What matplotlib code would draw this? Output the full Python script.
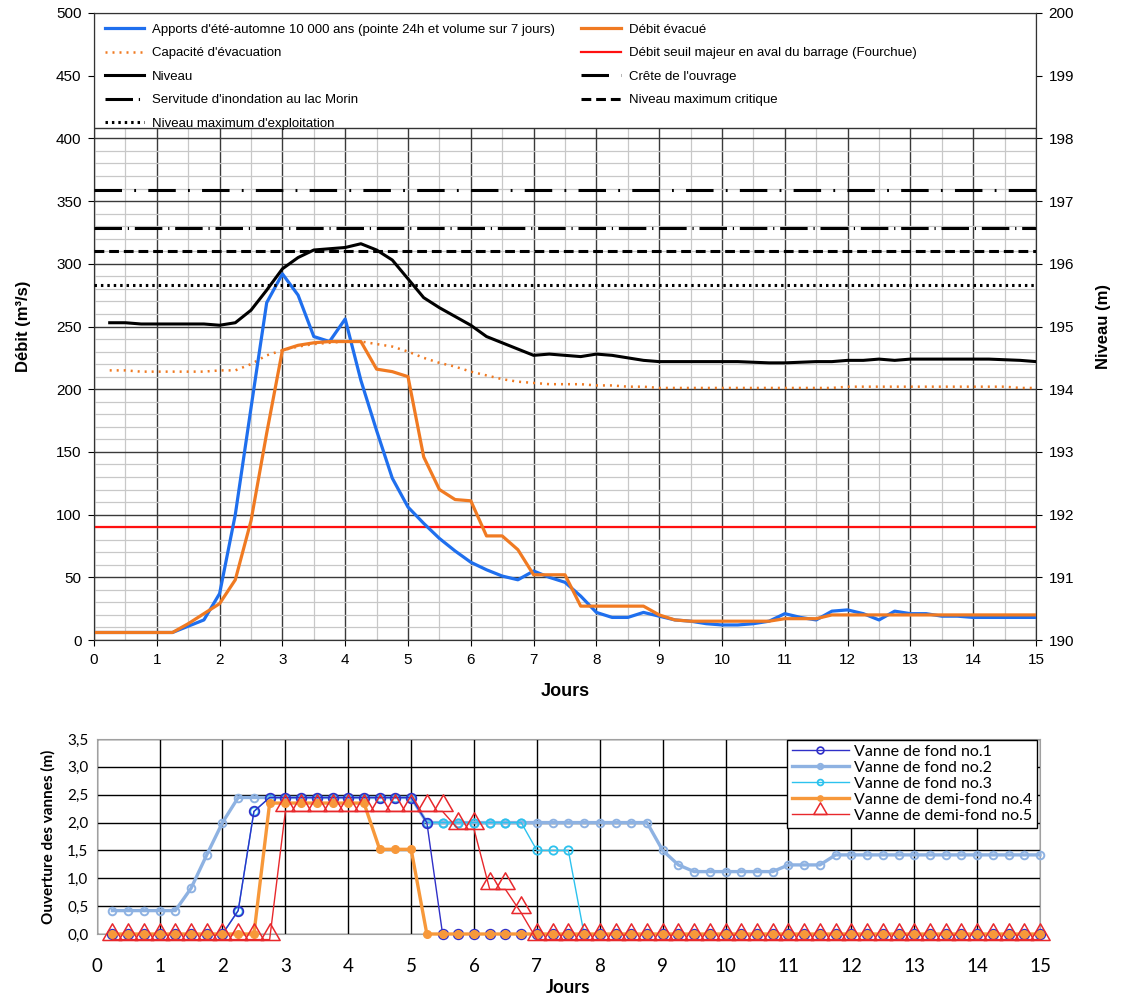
import numpy as np
import matplotlib
matplotlib.use("Agg")
import matplotlib.pyplot as plt
from matplotlib.path import Path
from matplotlib.patches import Rectangle
from matplotlib.ticker import MultipleLocator, FixedLocator

W, H = 1130, 1007
NARROW = ['Liberation Sans Narrow', 'Liberation Sans', 'DejaVu Sans']
LOWF = ['Lato', 'DejaVu Sans']

# ---------------- data: top chart ----------------
t_flow = [i * 0.25 for i in range(61)]      # 0 .. 15 days
t_level = t_flow[1:]                        # 0.25 .. 15 days

apports = [6, 6, 6, 6, 6, 6, 11, 16,
           37, 100, 185, 269, 292, 275, 242, 238,
           256, 207, 167, 129, 106, 93, 81, 71,
           62, 56, 51, 48, 55, 50, 46, 35,
           22, 18, 18, 22, 19, 16, 15, 13,
           12, 12, 13, 15, 21, 18, 16, 23,
           24, 21, 16, 23, 21, 21, 19, 19,
           18, 18, 18, 18, 18]

debit_evacue = [6, 6, 6, 6, 6, 6, 13, 21,
                29, 48, 95, 165, 231, 235, 237, 238,
                238, 238, 216, 214, 210, 146, 120, 112,
                111, 83, 83, 72, 52, 52, 52, 27,
                27, 27, 27, 27, 20, 16, 15, 15,
                15, 15, 15, 15, 17, 17, 17, 20,
                20, 20, 20, 20, 20, 20, 20, 20,
                20, 20, 20, 20, 20]

capacite = [215, 215, 214, 214, 214, 214, 214, 215,
            215, 220, 227, 231, 234, 236, 237, 238,
            238, 236, 234, 230, 225, 221, 218, 214,
            211, 208, 206, 205, 204, 204, 204, 203,
            203, 202, 202, 201, 201, 201, 201, 201,
            201, 201, 201, 201, 201, 201, 201, 202,
            202, 202, 202, 202, 202, 202, 202, 202,
            202, 202, 201, 201]

niveau = [195.06, 195.06, 195.04, 195.04, 195.04, 195.04, 195.04, 195.02,
          195.06, 195.26, 195.58, 195.92, 196.10, 196.22, 196.24, 196.26,
          196.32, 196.22, 196.06, 195.76, 195.46, 195.30, 195.16, 195.02,
          194.84, 194.74, 194.64, 194.54, 194.56, 194.54, 194.52, 194.56,
          194.54, 194.50, 194.46, 194.44, 194.44, 194.44, 194.44, 194.44,
          194.44, 194.43, 194.42, 194.42, 194.43, 194.44, 194.44, 194.46,
          194.46, 194.48, 194.46, 194.48, 194.48, 194.48, 194.48, 194.48,
          194.48, 194.47, 194.46, 194.44]

seuil_aval = 90          # m3/s
crete = 197.18           # m
servitude = 196.57       # m
critique = 196.21        # m
exploitation = 195.66    # m

x_ticks_top = list(range(0, 16))
y_ticks_left = list(range(0, 501, 50))
y_ticks_right = list(range(190, 201))

labels_top = ["Apports d'été-automne 10 000 ans (pointe 24h et volume sur 7 jours)",
              "Débit évacué",
              "Capacité d'évacuation",
              "Débit seuil majeur en aval du barrage (Fourchue)",
              "Niveau",
              "Crête de l'ouvrage",
              "Servitude d'inondation au lac Morin",
              "Niveau maximum critique",
              "Niveau maximum d'exploitation"]

# ---------------- data: gates ----------------
t_gate = t_level
vanne1 = [0, 0, 0, 0, 0, 0, 0, 0,
          0.42, 2.2, 2.45, 2.45, 2.45, 2.45, 2.45, 2.45,
          2.45, 2.45, 2.45, 2.45, 2.0, 0, 0, 0,
          0, 0, 0, 0, 0, 0, 0, 0,
          0, 0, 0, 0, 0, 0, 0, 0,
          0, 0, 0, 0, 0, 0, 0, 0,
          0, 0, 0, 0, 0, 0, 0, 0,
          0, 0, 0, 0]
vanne2 = [0.42, 0.42, 0.42, 0.42, 0.42, 0.82, 1.42, 2.0,
          2.45, 2.45, 2.45, 2.45, 2.45, 2.45, 2.45, 2.45,
          2.45, 2.45, 2.45, 2.45, 2.0, 2.0, 2.0, 2.0,
          2.0, 2.0, 2.0, 2.0, 2.0, 2.0, 2.0, 2.0,
          2.0, 2.0, 2.0, 1.5, 1.24, 1.12, 1.12, 1.12,
          1.12, 1.12, 1.12, 1.24, 1.24, 1.24, 1.42, 1.42,
          1.42, 1.42, 1.42, 1.42, 1.42, 1.42, 1.42, 1.42,
          1.42, 1.42, 1.42, 1.42]
vanne3 = [0, 0, 0, 0, 0, 0, 0, 0,
          0.42, 2.2, 2.45, 2.45, 2.45, 2.45, 2.45, 2.45,
          2.45, 2.45, 2.45, 2.45, 2.0, 2.0, 2.0, 2.0,
          2.0, 2.0, 2.0, 1.5, 1.5, 1.5, 0, 0,
          0, 0, 0, 0, 0, 0, 0, 0,
          0, 0, 0, 0, 0, 0, 0, 0,
          0, 0, 0, 0, 0, 0, 0, 0,
          0, 0, 0, 0]
vanne4 = [0, 0, 0, 0, 0, 0, 0, 0,
          0, 0, 2.35, 2.35, 2.35, 2.35, 2.35, 2.35,
          2.35, 1.52, 1.52, 1.52, 0, 0, 0, 0,
          0, 0, 0, 0, 0, 0, 0, 0,
          0, 0, 0, 0, 0, 0, 0, 0,
          0, 0, 0, 0, 0, 0, 0, 0,
          0, 0, 0, 0, 0, 0, 0, 0,
          0, 0, 0, 0]
vanne5 = [-0.1, -0.1, -0.1, -0.1, -0.1, -0.1, -0.1, -0.1,
          -0.1, -0.1, -0.1, 2.2, 2.2, 2.2, 2.2, 2.2,
          2.2, 2.2, 2.2, 2.2, 2.2, 2.2, 1.88, 1.88,
          0.8, 0.8, 0.38, -0.1, -0.1, -0.1, -0.1, -0.1,
          -0.1, -0.1, -0.1, -0.1, -0.1, -0.1, -0.1, -0.1,
          -0.1, -0.1, -0.1, -0.1, -0.1, -0.1, -0.1, -0.1,
          -0.1, -0.1, -0.1, -0.1, -0.1, -0.1, -0.1, -0.1,
          -0.1, -0.1, -0.1, -0.1]
labels_gates = ["Vanne de fond no.1", "Vanne de fond no.2", "Vanne de fond no.3",
                "Vanne de demi-fond no.4", "Vanne de demi-fond no.5"]
y_ticks_gate = [0, 0.5, 1.0, 1.5, 2.0, 2.5, 3.0, 3.5]
y_ticklabels_gate = ["0,0", "0,5", "1,0", "1,5", "2,0", "2,5", "3,0", "3,5"]

# ---------------- figure ----------------
fig = plt.figure(figsize=(W / 100, H / 100), dpi=100)

ax = fig.add_axes([94 / W, 1 - 640 / H, 942 / W, 627 / H])
ax2 = ax.twinx()

ax.set_xlim(0, 15)
ax.set_ylim(0, 500)
ax2.set_ylim(190, 200)
ax.set_axisbelow(True)
ax.xaxis.set_major_locator(FixedLocator(x_ticks_top))
ax.xaxis.set_minor_locator(MultipleLocator(0.5))
ax.yaxis.set_major_locator(FixedLocator(y_ticks_left))
ax.yaxis.set_minor_locator(MultipleLocator(10))
ax2.yaxis.set_major_locator(FixedLocator(y_ticks_right))
ax.grid(which='minor', color='#c8c8c8', lw=0.9)
ax.grid(which='major', color='#3a3a3a', lw=1.0)
ax.tick_params(which='minor', length=0)
ax.tick_params(which='major', length=4, direction='out', labelsize=11, pad=5)
ax2.tick_params(which='major', length=4, direction='out', labelsize=11, pad=5)
for lab in ax.get_xticklabels() + ax.get_yticklabels() + ax2.get_yticklabels():
    lab.set_family(NARROW)
for sp in list(ax.spines.values()) + list(ax2.spines.values()):
    sp.set_color('#333333')

C_BLUE = '#1f6fee'
C_ORANGE = '#f07a22'
h_app, = ax.plot(t_flow, apports, color=C_BLUE, lw=2.3, zorder=4)
h_deb, = ax.plot(t_flow, debit_evacue, color=C_ORANGE, lw=2.3, zorder=4)
h_cap, = ax.plot(t_level, capacite, color=C_ORANGE, lw=1.8, dashes=(0.8, 2.0), zorder=3)
h_seu = ax.axhline(seuil_aval, color='#ff1010', lw=1.6, zorder=3)

h_niv, = ax2.plot(t_level, niveau, color='black', lw=2.2, zorder=4)
h_cre = ax2.axhline(crete, color='black', lw=2.2, dashes=(9.0, 4.0, 0.6, 4.0), zorder=3)
h_ser = ax2.axhline(servitude, color='black', lw=2.2, dashes=(9.0, 1.9, 0.4, 1.9), zorder=3)
h_cri = ax2.axhline(critique, color='black', lw=2.2, dashes=(3.2, 1.6), zorder=3)
h_exp = ax2.axhline(exploitation, color='black', lw=2.2, dashes=(0.8, 1.3), zorder=3)

# legend box across the top of the plot area
ax2.add_patch(Rectangle((0, 0.816), 1, 0.184, transform=ax2.transAxes,
                        facecolor='white', edgecolor='#333333', lw=1.0, zorder=6))
handles = [h_app, h_cap, h_niv, h_ser, h_exp, h_deb, h_seu, h_cre, h_cri]
labs = [labels_top[0], labels_top[2], labels_top[4], labels_top[6], labels_top[8],
        labels_top[1], labels_top[3], labels_top[5], labels_top[7]]
leg = ax2.legend(handles, labs, ncol=2, loc='upper left', bbox_to_anchor=(0.0, 1.0),
                 frameon=False, prop={'family': NARROW, 'size': 9.5},
                 handlelength=3.0, handletextpad=0.6, labelspacing=0.85,
                 columnspacing=2.0, borderaxespad=0.5, borderpad=0.3)
leg.set_zorder(7)

ax.set_ylabel('Débit (m³/s)', fontsize=12, fontweight='bold', family=NARROW, labelpad=18)
ax2.set_ylabel('Niveau (m)', fontsize=12, fontweight='bold', family=NARROW, labelpad=16)
ax.set_xlabel('Jours', fontsize=13, fontweight='bold', family=NARROW, labelpad=12)

# ---------------- gates chart ----------------
bx = fig.add_axes([96.7 / W, 1 - 934 / H, 943.3 / W, 195 / H])
bx.set_xlim(0, 15)
bx.set_ylim(0, 3.5)
bx.set_axisbelow(True)
bx.xaxis.set_major_locator(FixedLocator(x_ticks_top))
bx.yaxis.set_major_locator(FixedLocator(y_ticks_gate))
bx.set_yticklabels(y_ticklabels_gate)
bx.grid(which='major', color='black', lw=1.0)
bx.tick_params(axis='both', length=0)
bx.tick_params(axis='y', labelsize=11, pad=6)
bx.tick_params(axis='x', labelsize=13.5, pad=17)
for lab in bx.get_xticklabels() + bx.get_yticklabels():
    lab.set_family(LOWF)
for sp in bx.spines.values():
    sp.set_color('#a0a0a0')

tri_path = Path([(-1.0, 0.0), (1.0, 0.0), (0.0, 1.73), (-1.0, 0.0)],
                [Path.MOVETO, Path.LINETO, Path.LINETO, Path.CLOSEPOLY])

g2, = bx.plot(t_gate, vanne2, color='#8eb2e2', lw=2.4, marker='o', ms=5.5,
              mfc='none', mec='#8eb2e2', mew=1.4, zorder=3, clip_on=False)
g3, = bx.plot(t_gate, vanne3, color='#2cc2ee', lw=1.0, marker='o', ms=6,
              mfc='none', mec='#2cc2ee', mew=1.3, zorder=4, clip_on=False)
g1, = bx.plot(t_gate, vanne1, color='#3030c8', lw=1.0, marker='o', ms=7,
              mfc='none', mec='#3030c8', mew=1.2, zorder=4.5, clip_on=False)
g4, = bx.plot(t_gate, vanne4, color='#f7983a', lw=2.4, marker='o', ms=5.5,
              mfc='#f7983a', mec='#f7983a', zorder=5, clip_on=False)
g5, = bx.plot(t_gate, vanne5, color='#e8282c', lw=1.0, marker=tri_path, ms=24,
              mfc='none', mec='#e8282c', mew=1.1, zorder=6, clip_on=False)

gl = bx.legend([g1, g2, g3, g4, g5], labels_gates, loc='upper right',
               bbox_to_anchor=(0.9968, 0.997), fancybox=False, framealpha=1,
               edgecolor='black', prop={'family': LOWF, 'size': 11.5},
               handlelength=3.6, handletextpad=0.3, labelspacing=0.12,
               borderpad=0.3, borderaxespad=0.0, numpoints=1, markerscale=0.7)
gl.get_frame().set_linewidth(1.0)
gl.set_zorder(10)

bx.set_ylabel('Ouverture des vannes (m)', fontsize=11, fontweight='bold',
              family=LOWF, labelpad=8)
bx.set_xlabel('Jours', fontsize=13.5, fontweight='bold', family=LOWF, labelpad=3)

fig.savefig('out.png', dpi=100)
